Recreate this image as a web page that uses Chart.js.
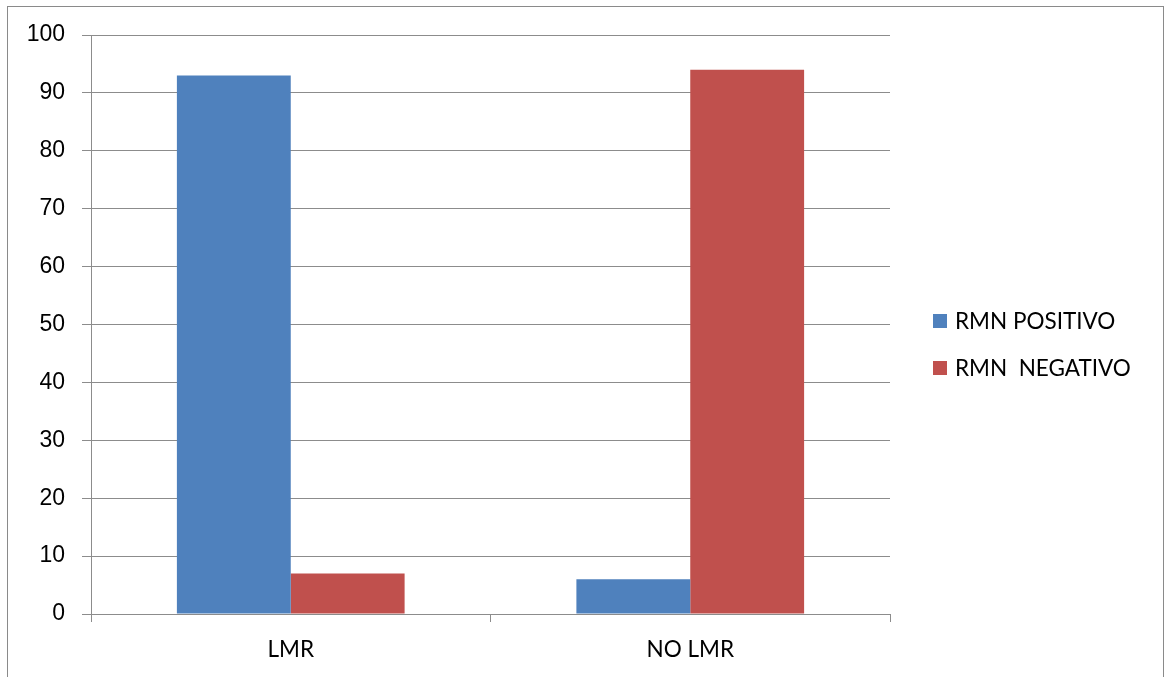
<!DOCTYPE html>
<html>
<head>
<meta charset="utf-8">
<script src="https://cdn.jsdelivr.net/npm/chart.js@4/dist/chart.umd.min.js"></script>
<style>
  html, body { margin: 0; padding: 0; background: #fff; }
  #wrap { width: 1168px; height: 677px; position: relative; }
</style>
</head>
<body>
<div id="wrap"><canvas id="c" width="1168" height="677"></canvas></div>
<script>
// Categories and series
const categories = ['LMR', 'NO LMR'];
const seriesNames = ['RMN POSITIVO', 'RMN  NEGATIVO'];
const positivo = [93, 6];
const negativo = [7, 94];
const yTicks = [0, 10, 20, 30, 40, 50, 60, 70, 80, 90, 100];

const BLUE = '#4F81BD';
const RED = '#C0504D';
const GRID = '#8c8c8c';

// Frame around the whole chart
const framePlugin = {
  id: 'frame',
  beforeDraw(chart) {
    const ctx = chart.ctx;
    ctx.save();
    ctx.fillStyle = '#fff';
    ctx.fillRect(0, 0, chart.width, chart.height);
    ctx.strokeStyle = '#8a8a8a';
    ctx.lineWidth = 1;
    ctx.strokeRect(7.5, 6.5, 1156, 700);
    ctx.restore();
  }
};

// Legend on the right, built from the datasets
const sideLegend = {
  id: 'sideLegend',
  afterDraw(chart) {
    const ctx = chart.ctx;
    ctx.save();
    ctx.font = '22.5px Lato, "Open Sans", sans-serif';
    ctx.textBaseline = 'middle';
    ctx.textAlign = 'left';
    const rows = [321, 368];
    chart.data.datasets.forEach((ds, i) => {
      const y = rows[i];
      ctx.fillStyle = ds.backgroundColor;
      ctx.fillRect(933, y - 7, 14, 14);
      ctx.fillStyle = '#000';
      ctx.fillText(ds.label, 955, y + 1);
    });
    ctx.restore();
  }
};

new Chart(document.getElementById('c'), {
  type: 'bar',
  data: {
    labels: categories,
    datasets: [
      { label: seriesNames[0], data: positivo, backgroundColor: BLUE },
      { label: seriesNames[1], data: negativo, backgroundColor: RED }
    ]
  },
  options: {
    responsive: false,
    animation: false,
    events: [],
    datasets: { bar: { barPercentage: 1.0, categoryPercentage: 0.57 } },
    layout: { padding: { left: 8, top: 35, right: 278, bottom: 0 } },
    plugins: {
      legend: { display: false },
      tooltip: { enabled: false }
    },
    scales: {
      x: {
        grid: {
          offset: true,
          drawOnChartArea: false,
          drawTicks: true,
          tickLength: 8,
          color: GRID
        },
        border: { color: GRID },
        ticks: {
          color: '#000',
          font: { family: 'Lato, "Open Sans", sans-serif', size: 22.5 },
          padding: 14
        },
        afterFit(scale) { scale.height = 63; }
      },
      y: {
        min: 0,
        max: 100,
        afterBuildTicks(scale) { scale.ticks = yTicks.map(v => ({ value: v })); },
        grid: { color: GRID, tickLength: 9, drawTicks: true },
        border: { color: GRID },
        ticks: {
          color: '#000',
          font: { family: '"Liberation Sans", Arial, sans-serif', size: 23 },
          padding: 17
        },
        afterFit(scale) { scale.width = 83; }
      }
    }
  },
  plugins: [framePlugin, sideLegend]
});
</script>
</body>
</html>
